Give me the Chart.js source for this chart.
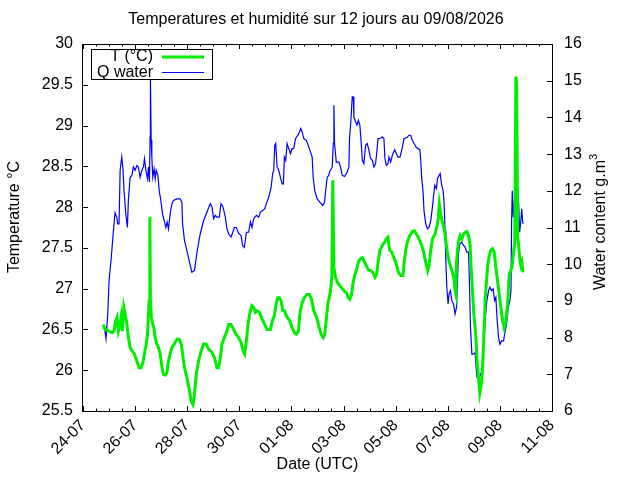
<!DOCTYPE html>
<html>
<head>
<meta charset="utf-8">
<script src="https://cdn.jsdelivr.net/npm/chart.js@4.4.0/dist/chart.umd.min.js"></script>
<style>
  body { margin: 0; background: #fff; }
  canvas { display: block; }
</style>
</head>
<body>
<canvas id="meteoChart" width="640" height="480"></canvas>
<script>
// x values are hours since 24-07 00:00 UTC
const dateLabels = ['24-07', '26-07', '28-07', '30-07', '01-08', '03-08', '05-08', '07-08', '09-08', '11-08'];

const tHours = [
  18.7, 20.3, 22.8, 24.9, 27.0, 28.6, 30.2, 31.4, 32.6, 34.2, 35.1, 36.3, 37.6, 38.8, 40.3, 41.8,
  43.4, 45.0, 47.4, 49.6, 51.7, 53.5, 55.1, 56.6, 58.2, 59.4, 60.3, 60.9, 61.6, 62.1, 63.0, 64.0,
  65.3, 66.5, 68.0, 69.5, 71.1, 72.6, 74.1, 75.7, 77.3, 78.7, 80.3, 81.9, 84.0, 86.5, 88.6, 90.5,
  91.7, 93.5, 95.7, 97.8, 99.7, 101.3, 102.7, 104.3, 106.4, 108.9, 111.1, 113.3, 115.7, 118.8, 121.2, 123.4,
  124.9, 126.5, 128.0, 130.2, 132.6, 134.1, 136.3, 138.7, 141.2, 143.4, 145.6, 147.4, 148.9, 150.5, 152.0, 153.5,
  155.4, 157.2, 158.8, 160.3, 162.5, 164.9, 167.4, 169.6, 172.6, 174.5, 176.3, 177.9, 179.4, 180.9, 182.5, 184.0,
  185.5, 188.0, 190.4, 192.6, 194.8, 196.6, 198.5, 199.7, 201.9, 204.0, 206.5, 208.6, 210.5, 212.6, 215.1, 217.2,
  219.4, 221.3, 222.7, 224.0, 225.5, 227.4, 228.0, 229.2, 230.1, 231.1, 232.6, 234.2, 236.3, 238.8, 240.9, 242.8,
  244.3, 245.8, 247.4, 248.6, 250.2, 252.0, 253.6, 255.0, 257.3, 258.7, 260.3, 262.4, 264.9, 267.0, 268.9, 270.5,
  272.0, 273.5, 275.7, 277.8, 279.4, 280.9, 282.5, 284.3, 286.4, 288.6, 290.5, 292.6, 294.7, 296.0, 297.2, 298.8,
  300.9, 303.4, 305.3, 307.1, 309.5, 312.0, 314.1, 315.7, 317.5, 318.7, 320.3, 321.9, 324.3, 326.5, 327.4, 328.2,
  329.5, 330.5, 331.7, 333.0, 334.2, 335.7, 337.2, 338.8, 340.3, 341.8, 342.7, 343.4, 344.0, 344.9, 346.2, 347.4,
  349.0, 350.5, 352.0, 353.5, 355.1, 356.6, 357.5, 358.8, 360.0, 361.2, 362.1, 363.0, 364.3, 365.5, 366.7, 367.7,
  368.6, 369.5, 370.4, 371.7, 372.9, 374.1, 375.7, 377.2, 378.7, 380.3, 381.8, 383.4, 384.9, 386.5, 388.0, 389.5,
  391.1, 392.6, 393.9, 395.2, 396.4, 397.7, 398.7, 399.4, 400.4, 401.3, 402.5, 403.4, 404.3, 405.2
];
const tempC = [
  26.56, 26.50, 26.49, 26.47, 26.46, 26.48, 26.61, 26.65, 26.48, 26.56, 26.65, 26.48, 26.77, 26.69, 26.58, 26.40,
  26.28, 26.24, 26.20, 26.11, 26.03, 26.03, 26.09, 26.20, 26.32, 26.44, 26.69, 26.85, 27.88, 26.85, 26.65, 26.58,
  26.52, 26.40, 26.32, 26.28, 26.20, 26.05, 25.95, 25.94, 25.97, 26.11, 26.20, 26.28, 26.32, 26.38, 26.38, 26.32,
  26.20, 26.03, 25.91, 25.77, 25.62, 25.58, 25.70, 25.95, 26.11, 26.24, 26.32, 26.32, 26.26, 26.22, 26.15, 26.03,
  26.03, 26.15, 26.32, 26.40, 26.48, 26.56, 26.56, 26.50, 26.44, 26.40, 26.34, 26.24, 26.20, 26.36, 26.56, 26.69,
  26.79, 26.77, 26.71, 26.73, 26.71, 26.63, 26.56, 26.50, 26.50, 26.61, 26.67, 26.81, 26.89, 26.89, 26.85, 26.73,
  26.73, 26.65, 26.61, 26.52, 26.46, 26.44, 26.48, 26.69, 26.83, 26.89, 26.93, 26.93, 26.87, 26.73, 26.65, 26.54,
  26.44, 26.40, 26.44, 26.61, 26.81, 26.93, 26.97, 27.14, 28.33, 27.26, 27.14, 27.08, 27.04, 27.00, 26.97, 26.95,
  26.89, 26.87, 26.93, 27.06, 27.16, 27.24, 27.32, 27.36, 27.38, 27.34, 27.30, 27.24, 27.22, 27.20, 27.14, 27.18,
  27.34, 27.47, 27.53, 27.57, 27.61, 27.63, 27.47, 27.45, 27.38, 27.30, 27.20, 27.16, 27.16, 27.34, 27.47, 27.57,
  27.65, 27.70, 27.71, 27.67, 27.61, 27.53, 27.43, 27.32, 27.22, 27.28, 27.47, 27.61, 27.67, 27.79, 27.88, 28.04,
  27.92, 27.84, 27.79, 27.71, 27.59, 27.43, 27.34, 27.26, 27.20, 27.12, 26.97, 26.93, 27.30, 27.47, 27.59, 27.65,
  27.61, 27.67, 27.69, 27.70, 27.65, 27.53, 27.26, 26.97, 26.69, 26.52, 26.36, 26.11, 25.91, 25.72, 25.81, 25.95,
  26.20, 26.52, 26.85, 27.10, 27.30, 27.40, 27.47, 27.49, 27.45, 27.26, 27.10, 26.93, 26.77, 26.61, 26.52, 26.61,
  26.81, 27.18, 27.22, 27.26, 27.43, 27.55, 29.60, 29.52, 27.63, 27.53, 27.34, 27.28, 27.32, 27.20
];

const qHours = [
  19.7, 21.2, 22.8, 24.0, 25.8, 28.0, 29.5, 31.1, 32.0, 33.2, 34.2, 35.7, 36.9, 37.8, 39.4, 40.9,
  41.8, 43.4, 45.0, 46.4, 48.0, 49.6, 51.0, 52.6, 54.2, 55.7, 56.6, 57.9, 59.4, 60.3, 61.2, 61.8,
  62.1, 62.8, 63.4, 64.3, 65.5, 66.5, 67.4, 69.0, 70.2, 71.7, 73.2, 74.8, 76.3, 77.5, 78.7, 80.3,
  81.9, 83.4, 86.5, 89.5, 91.1, 91.7, 93.5, 95.7, 97.8, 100.3, 102.7, 105.0, 108.0, 111.1, 114.2, 117.2,
  118.8, 120.3, 121.8, 123.4, 125.5, 127.1, 129.0, 131.1, 132.6, 134.1, 136.3, 137.5, 139.4, 141.2, 143.4, 145.6,
  147.0, 148.6, 150.5, 152.6, 154.2, 155.7, 157.2, 159.7, 161.8, 163.4, 165.5, 167.4, 168.9, 171.1, 173.3, 174.7,
  175.7, 176.6, 177.5, 178.8, 180.3, 181.8, 183.4, 184.6, 185.5, 186.7, 188.0, 189.5, 191.1, 192.6, 194.1, 195.7,
  197.8, 199.4, 200.6, 201.9, 203.4, 205.6, 207.4, 209.5, 211.1, 212.0, 213.5, 215.7, 218.1, 220.9, 222.5, 223.4,
  224.9, 226.4, 227.1, 229.6, 230.5, 231.1, 231.7, 233.3, 235.7, 237.2, 238.8, 240.9, 243.4, 244.9, 245.5, 246.7,
  248.0, 249.0, 249.5, 251.1, 252.3, 253.6, 255.0, 256.3, 257.3, 258.7, 260.3, 261.8, 263.4, 264.9, 266.5, 268.0,
  269.5, 270.5, 271.7, 273.5, 275.7, 277.2, 278.1, 279.4, 280.9, 281.8, 283.4, 284.9, 287.1, 288.6, 290.1, 292.0,
  294.2, 295.7, 298.2, 300.3, 301.8, 303.4, 304.9, 307.1, 310.2, 311.1, 312.0, 313.2, 314.1, 315.7, 317.3, 318.7,
  320.3, 321.9, 322.8, 324.0, 325.6, 326.5, 328.0, 329.0, 330.2, 331.7, 332.6, 333.5, 334.2, 335.1, 336.3, 337.2,
  338.5, 339.7, 341.3, 342.7, 344.0, 344.9, 345.8, 347.1, 348.9, 350.5, 352.0, 353.5, 355.1, 356.0, 356.9, 358.2,
  359.7, 361.2, 362.1, 363.0, 364.3, 365.8, 367.4, 368.9, 370.4, 372.0, 373.6, 374.8, 376.3, 377.8, 379.1, 380.3,
  381.5, 382.8, 384.0, 385.6, 387.4, 388.6, 390.2, 391.7, 393.2, 394.2, 394.8, 395.4, 396.3, 397.2, 398.2, 398.8,
  399.7, 400.4, 401.3, 402.2, 403.2, 404.1, 405.0, 405.5
];
const waterQ = [
  8.28, 7.97, 8.65, 9.55, 10.10, 10.90, 11.40, 11.28, 11.10, 11.10, 12.56, 12.92, 12.56, 12.00, 11.38, 11.00,
  11.74, 12.37, 12.42, 12.65, 12.56, 12.69, 12.65, 12.37, 12.56, 12.65, 12.88, 12.56, 12.33, 12.65, 12.24, 13.47,
  15.10, 13.38, 12.92, 12.37, 12.60, 12.33, 12.56, 12.42, 12.00, 11.74, 11.37, 11.19, 11.00, 11.15, 10.96, 11.37,
  11.65, 11.74, 11.78, 11.78, 11.69, 11.10, 10.64, 10.37, 10.10, 9.78, 9.83, 10.33, 10.83, 11.19, 11.42, 11.65,
  11.56, 11.24, 11.33, 11.28, 11.28, 11.65, 11.56, 11.28, 10.96, 10.83, 10.74, 10.83, 11.00, 11.00, 10.84, 10.78,
  10.51, 10.46, 10.87, 10.87, 11.15, 11.00, 11.24, 11.33, 11.28, 11.42, 11.46, 11.51, 11.65, 11.83, 12.10, 12.47,
  12.56, 13.24, 13.29, 12.65, 12.56, 12.37, 12.19, 12.19, 12.92, 12.83, 13.29, 13.15, 13.01, 13.15, 13.15, 13.42,
  13.51, 13.60, 13.70, 13.60, 13.42, 13.38, 13.24, 13.06, 12.92, 12.37, 12.00, 11.78, 11.69, 11.60, 11.69, 11.97,
  12.37, 12.42, 12.51, 12.65, 13.29, 14.33, 13.29, 12.78, 12.78, 12.65, 12.42, 12.39, 12.51, 12.65, 13.42, 13.88,
  14.56, 14.56, 14.01, 13.88, 13.79, 13.92, 13.79, 13.29, 12.83, 12.74, 13.24, 13.29, 13.10, 12.88, 12.83, 12.65,
  12.74, 13.01, 13.42, 13.42, 13.47, 13.42, 12.88, 12.69, 12.74, 12.92, 12.78, 12.97, 13.12, 13.01, 12.92, 12.92,
  13.19, 13.42, 13.45, 13.51, 13.51, 13.38, 13.29, 13.18, 13.12, 12.83, 12.33, 12.00, 11.46, 11.10, 10.96, 11.00,
  11.19, 11.56, 11.83, 12.15, 12.06, 12.33, 12.42, 12.47, 12.19, 12.00, 11.69, 10.92, 10.10, 9.37, 8.92, 9.19,
  9.28, 9.01, 8.92, 8.64, 8.82, 9.55, 10.28, 10.55, 10.60, 10.51, 10.46, 10.33, 10.33, 9.46, 8.28, 7.55,
  7.55, 7.59, 7.18, 6.91, 6.87, 6.96, 7.09, 7.73, 8.46, 9.01, 9.28, 9.37, 9.28, 9.33, 9.01, 9.10,
  8.46, 8.00, 7.82, 7.91, 7.91, 8.14, 8.37, 8.82, 9.01, 9.28, 11.19, 12.00, 11.28, 11.65, 11.46, 12.83,
  13.10, 11.92, 11.65, 10.87, 11.15, 11.51, 11.15, 11.10
];

const FONT = 'Liberation Sans, Arial, sans-serif';
const FSIZE = 16;

const gnuplotFrame = {
  id: 'gnuplotFrame',
  afterDraw(chart) {
    const { ctx, chartArea: a, scales } = chart;
    ctx.save();
    ctx.strokeStyle = '#000';
    ctx.lineWidth = 1;

    // inward tick marks, x mirrored on top
    ctx.beginPath();
    scales.x.ticks.forEach(t => {
      const px = Math.round(scales.x.getPixelForValue(t.value)) + 0.5;
      const len = t.value % 48 === 0 ? 5 : 2.5;
      ctx.moveTo(px, a.bottom); ctx.lineTo(px, a.bottom - len);
      ctx.moveTo(px, a.top); ctx.lineTo(px, a.top + len);
    });
    scales.y.ticks.forEach(t => {
      const py = Math.round(scales.y.getPixelForValue(t.value)) + 0.5;
      ctx.moveTo(a.left, py); ctx.lineTo(a.left + 5, py);
    });
    scales.y2.ticks.forEach(t => {
      const py = Math.round(scales.y2.getPixelForValue(t.value)) + 0.5;
      ctx.moveTo(a.right, py); ctx.lineTo(a.right - 5, py);
    });
    ctx.stroke();
    ctx.strokeRect(a.left - 0.5, a.top + 0.5, a.right - a.left + 1, a.bottom - a.top);

    // legend, gnuplot style: text then line sample
    ctx.fillStyle = '#fff';
    ctx.fillRect(91.5, 49.5, 121, 30);
    ctx.strokeRect(91.5, 49.5, 121, 30);
    ctx.fillStyle = '#000';
    ctx.font = FSIZE + 'px ' + FONT;
    ctx.textAlign = 'right';
    ctx.textBaseline = 'middle';
    chart.data.datasets.forEach((ds, i) => {
      const y = 57 + i * 15.5;
      ctx.fillText(ds.label, 153, y);
      ctx.strokeStyle = ds.borderColor;
      ctx.lineWidth = ds.borderWidth;
      ctx.beginPath();
      ctx.moveTo(162, y); ctx.lineTo(204, y);
      ctx.stroke();
    });

    // titles
    ctx.textAlign = 'center';
    ctx.fillText('Temperatures et humidité sur 12 jours au 09/08/2026', 316, 20);
    ctx.fillText('Date (UTC)', (a.left + a.right) / 2, 465);

    ctx.save();
    ctx.translate(15, 217);
    ctx.rotate(-Math.PI / 2);
    ctx.fillText('Temperature °C', 0, 0);
    ctx.restore();

    ctx.save();
    ctx.translate(601, 222);
    ctx.rotate(-Math.PI / 2);
    const main = 'Water content g.m';
    const w1 = ctx.measureText(main).width;
    ctx.font = '11px ' + FONT;
    const w2 = ctx.measureText('3').width;
    const x0 = -(w1 + w2) / 2;
    ctx.textAlign = 'left';
    ctx.font = FSIZE + 'px ' + FONT;
    ctx.fillText(main, x0, 0);
    ctx.font = '11px ' + FONT;
    ctx.fillText('3', x0 + w1, -7);
    ctx.restore();

    ctx.restore();
  }
};

const ctx = document.getElementById('meteoChart').getContext('2d');
const chart = new Chart(ctx, {
  type: 'line',
  data: {
    datasets: [{
      label: 'T (°C)',
      data: tHours.map((h, i) => ({ x: h, y: tempC[i] })),
      yAxisID: 'y',
      borderColor: '#00ee00',
      borderWidth: 3,
      pointRadius: 0,
      tension: 0
    }, {
      label: 'Q water',
      data: qHours.map((h, i) => ({ x: h, y: waterQ[i] })),
      yAxisID: 'y2',
      borderColor: '#0000ff',
      borderWidth: 1.2,
      pointRadius: 0,
      tension: 0
    }]
  },
  options: {
    responsive: false,
    animation: false,
    layout: { padding: { top: 44, left: 0, right: 0, bottom: 0 } },
    plugins: {
      legend: { display: false },
      tooltip: { enabled: false }
    },
    scales: {
      x: {
        type: 'linear',
        min: 0,
        max: 432,
        grid: { display: false, drawTicks: false },
        border: { display: false },
        afterFit: s => { s.height = 69; },
        ticks: {
          stepSize: 12,
          autoSkip: false,
          minRotation: 45,
          maxRotation: 45,
          padding: 5,
          color: '#000',
          font: { family: FONT, size: FSIZE },
          callback: v => (v % 48 === 0 ? dateLabels[v / 48] : '')
        }
      },
      y: {
        position: 'left',
        min: 25.5,
        max: 30,
        grid: { display: false, drawTicks: false },
        border: { display: false },
        afterFit: s => { s.width = 83; },
        ticks: {
          stepSize: 0.5,
          padding: 10,
          color: '#000',
          font: { family: FONT, size: FSIZE },
          callback: v => String(v)
        }
      },
      y2: {
        position: 'right',
        min: 6,
        max: 16,
        grid: { display: false, drawTicks: false },
        border: { display: false },
        afterFit: s => { s.width = 88; },
        ticks: {
          stepSize: 1,
          padding: 12,
          color: '#000',
          font: { family: FONT, size: FSIZE }
        }
      }
    }
  },
  plugins: [gnuplotFrame]
});
</script>
</body>
</html>
